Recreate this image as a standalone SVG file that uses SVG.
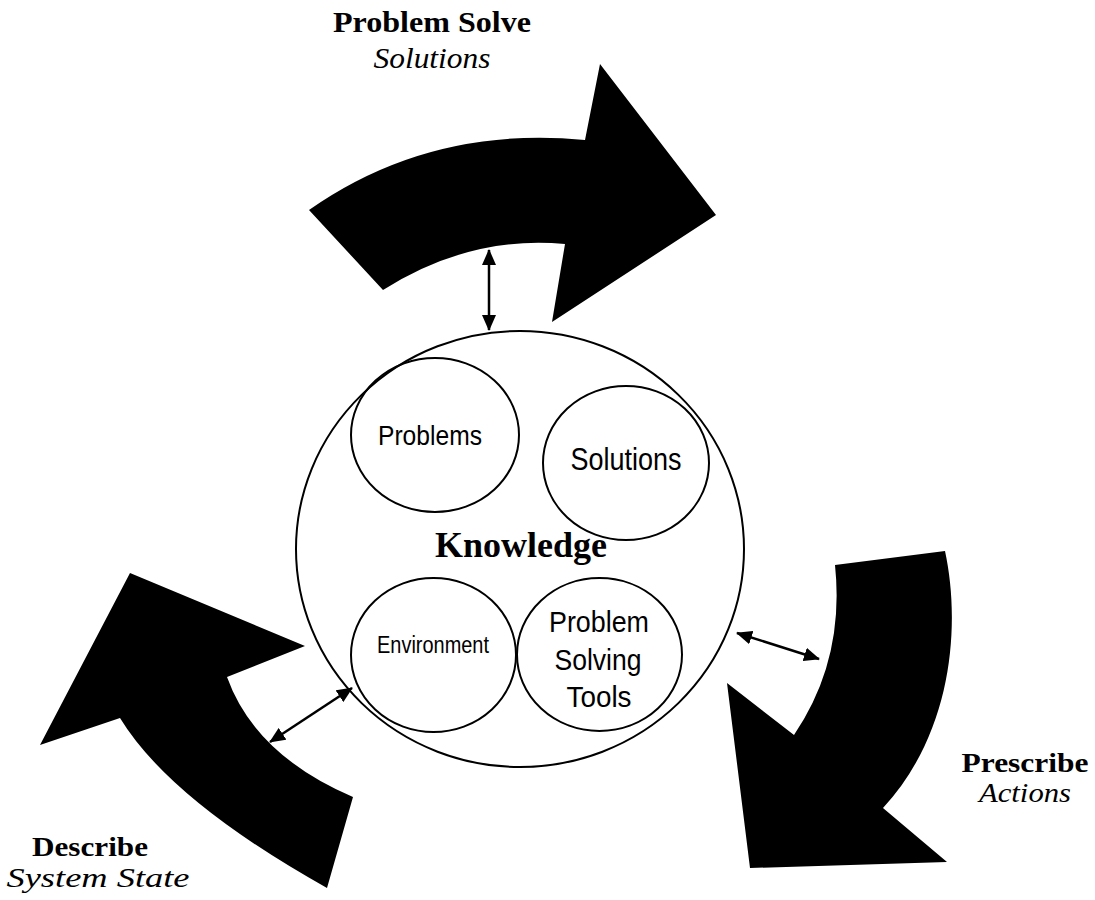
<svg xmlns="http://www.w3.org/2000/svg" width="1095" height="900" viewBox="0 0 1095 900">
<style>
.big{fill:#000;stroke:none}
.ring{fill:#fff;stroke:#000;stroke-width:2}
.sub{fill:none;stroke:#000;stroke-width:2}
.sans{font-family:"Liberation Sans",Arial,sans-serif;fill:#000;text-anchor:middle}
.bold{font-family:"Liberation Serif","Times New Roman",serif;font-weight:bold;fill:#000;text-anchor:middle}
.ital{font-family:"Liberation Serif","Times New Roman",serif;font-style:italic;fill:#000;text-anchor:middle}
.conn{stroke:#000;stroke-width:2.5;fill:none}
</style>
<defs>
<marker id="ah" markerUnits="userSpaceOnUse" markerWidth="16" markerHeight="14" refX="15" refY="7" orient="auto-start-reverse">
<path d="M0,0 L16,7 L0,14 z" fill="#000"/>
</marker>
</defs>
<rect width="1095" height="900" fill="#fff"/>
<g id="arrow-problem-solve">
<path class="big" d="M309,210 Q430,125 585,140 L600,64 L716,215 L552,322 L565,244 Q470,235 383,290 Z"/>
<text class="bold" x="432" y="32" font-size="30" textLength="198" lengthAdjust="spacingAndGlyphs">Problem Solve</text>
<text class="ital" x="432" y="68" font-size="30" textLength="117" lengthAdjust="spacingAndGlyphs">Solutions</text>
</g>
<g id="arrow-prescribe">
<path class="big" d="M835,565 L945,551 C960,620 955,730 883,808 L947,862 L750,868 L727,683 L794,735 Q845,660 835,565 Z"/>
<text class="bold" x="1025" y="772" font-size="28" textLength="127" lengthAdjust="spacingAndGlyphs">Prescribe</text>
<text class="ital" x="1025" y="802" font-size="28" textLength="92" lengthAdjust="spacingAndGlyphs">Actions</text>
</g>
<g id="arrow-describe">
<path class="big" d="M130,573 L305,646 L227,677 Q255,755 353,797 L327,888 Q170,800 120,718 L40,745 Z"/>
<text class="bold" x="90" y="856" font-size="28" textLength="116" lengthAdjust="spacingAndGlyphs">Describe</text>
<text class="ital" x="98" y="887" font-size="28" textLength="183" lengthAdjust="spacingAndGlyphs">System State</text>
</g>
<g id="knowledge">
<ellipse class="ring" cx="520" cy="549" rx="224" ry="218"/>
<text class="bold" x="521" y="557" font-size="36">Knowledge</text>
</g>
<g id="problems">
<ellipse class="sub" cx="435" cy="435" rx="84" ry="77"/>
<text class="sans" x="430" y="445" font-size="28" textLength="104" lengthAdjust="spacingAndGlyphs">Problems</text>
</g>
<g id="solutions">
<ellipse class="sub" cx="626" cy="463" rx="83" ry="77"/>
<text class="sans" x="626" y="470" font-size="31" textLength="111" lengthAdjust="spacingAndGlyphs">Solutions</text>
</g>
<g id="environment">
<ellipse class="sub" cx="433.5" cy="655" rx="82.5" ry="77"/>
<text class="sans" x="433" y="653" font-size="23" textLength="112" lengthAdjust="spacingAndGlyphs">Environment</text>
</g>
<g id="problem-solving-tools">
<ellipse class="sub" cx="599.5" cy="654.5" rx="82.5" ry="76.5"/>
<text class="sans" x="599" y="632" font-size="29" textLength="100" lengthAdjust="spacingAndGlyphs">Problem</text>
<text class="sans" x="598" y="670" font-size="29" textLength="87" lengthAdjust="spacingAndGlyphs">Solving</text>
<text class="sans" x="599" y="707" font-size="29" textLength="65" lengthAdjust="spacingAndGlyphs">Tools</text>
</g>
<g id="connectors">
<line class="conn" x1="489" y1="250" x2="489" y2="330" marker-start="url(#ah)" marker-end="url(#ah)"/>
<line class="conn" x1="737" y1="633" x2="819" y2="659" marker-start="url(#ah)" marker-end="url(#ah)"/>
<line class="conn" x1="270" y1="742" x2="352" y2="688" marker-start="url(#ah)" marker-end="url(#ah)"/>
</g>
</svg>
